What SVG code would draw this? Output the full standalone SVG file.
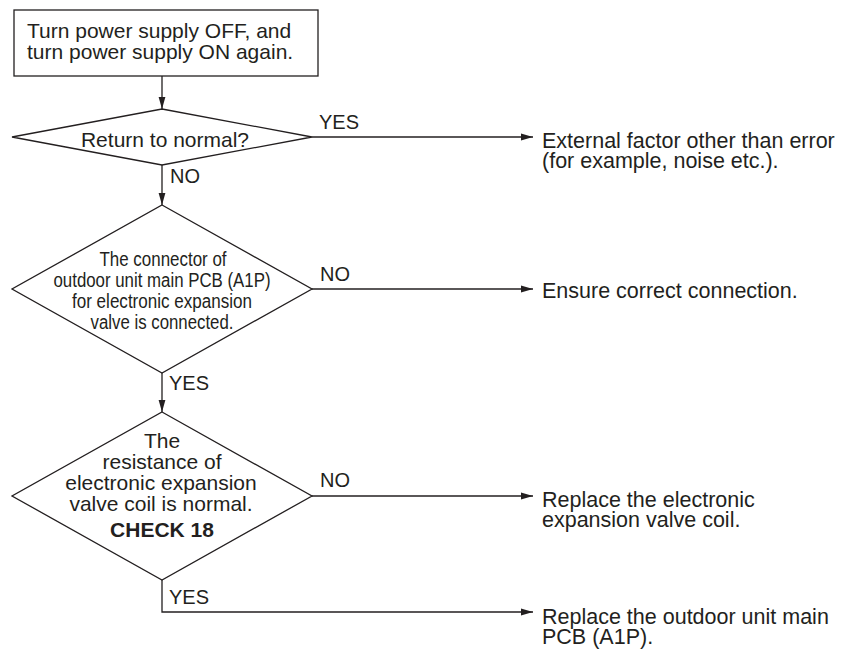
<svg xmlns="http://www.w3.org/2000/svg" width="846" height="649" viewBox="0 0 846 649">
<defs>
<marker id="ah" markerWidth="12" markerHeight="8" refX="12" refY="4" orient="auto" markerUnits="userSpaceOnUse">
<path d="M0,0.6 L12,4 L0,7.4 Z" fill="#231f20"/>
</marker>
<style>
.shape{fill:#fff;stroke:#231f20;stroke-width:1.3}
.conn{fill:none;stroke:#231f20;stroke-width:1.3}
text{font-family:"Liberation Sans",Arial,sans-serif;fill:#231f20}
.t{font-size:21px}
.r{font-size:21.5px}
.c{font-size:21px;text-anchor:middle}
.n{font-size:19.5px;text-anchor:middle}
.b{font-size:21px;text-anchor:middle;font-weight:bold}
.lbl{font-size:20px}
</style>
</defs>
<rect width="846" height="649" fill="#fff"/>
<g id="connectors">
<line class="conn" x1="162" y1="76" x2="162" y2="109" marker-end="url(#ah)"/>
<line class="conn" x1="312" y1="137" x2="533" y2="137" marker-end="url(#ah)"/>
<line class="conn" x1="162" y1="165" x2="162" y2="205" marker-end="url(#ah)"/>
<line class="conn" x1="312" y1="289" x2="533" y2="289" marker-end="url(#ah)"/>
<line class="conn" x1="162" y1="373" x2="162" y2="412" marker-end="url(#ah)"/>
<line class="conn" x1="312" y1="496" x2="533" y2="496" marker-end="url(#ah)"/>
<polyline class="conn" points="162,580 162,612 533,612" marker-end="url(#ah)"/>
<text class="lbl" x="319" y="129">YES</text>
<text class="lbl" x="170" y="183">NO</text>
<text class="lbl" x="320" y="281">NO</text>
<text class="lbl" x="169" y="390">YES</text>
<text class="lbl" x="320" y="487">NO</text>
<text class="lbl" x="169" y="604">YES</text>
</g>
<g id="start">
<rect class="shape" x="14" y="10" width="304" height="66"/>
<text class="t" x="27" y="38">Turn power supply OFF, and</text>
<text class="t" x="27" y="59">turn power supply ON again.</text>
</g>
<g id="d1">
<polygon class="shape" points="162,109 312,137 162,165 12,137"/>
<text class="c" x="165" y="147">Return to normal?</text>
</g>
<g id="d2">
<polygon class="shape" points="162,205 312,289 162,373 12,289"/>
<text class="n" x="163" y="266" textLength="127" lengthAdjust="spacingAndGlyphs">The connector of</text>
<text class="n" x="162" y="287" textLength="217" lengthAdjust="spacingAndGlyphs">outdoor unit main PCB (A1P)</text>
<text class="n" x="162" y="308" textLength="180" lengthAdjust="spacingAndGlyphs">for electronic expansion</text>
<text class="n" x="162" y="329" textLength="143" lengthAdjust="spacingAndGlyphs">valve is connected.</text>
</g>
<g id="d3">
<polygon class="shape" points="162,412 312,496 162,580 12,496"/>
<text class="c" x="162" y="448">The</text>
<text class="c" x="162" y="469">resistance of</text>
<text class="c" x="161" y="490">electronic expansion</text>
<text class="c" x="161" y="511">valve coil is normal.</text>
<text class="b" x="162" y="537">CHECK 18</text>
</g>
<g id="r1">
<text class="r" x="542" y="148">External factor other than error</text>
<text class="r" x="542" y="168">(for example, noise etc.).</text>
</g>
<g id="r2">
<text class="r" x="542" y="298">Ensure correct connection.</text>
</g>
<g id="r3">
<text class="r" x="542" y="507">Replace the electronic</text>
<text class="r" x="542" y="527">expansion valve coil.</text>
</g>
<g id="r4">
<text class="r" x="542" y="624">Replace the outdoor unit main</text>
<text class="r" x="542" y="644">PCB (A1P).</text>
</g>
</svg>
